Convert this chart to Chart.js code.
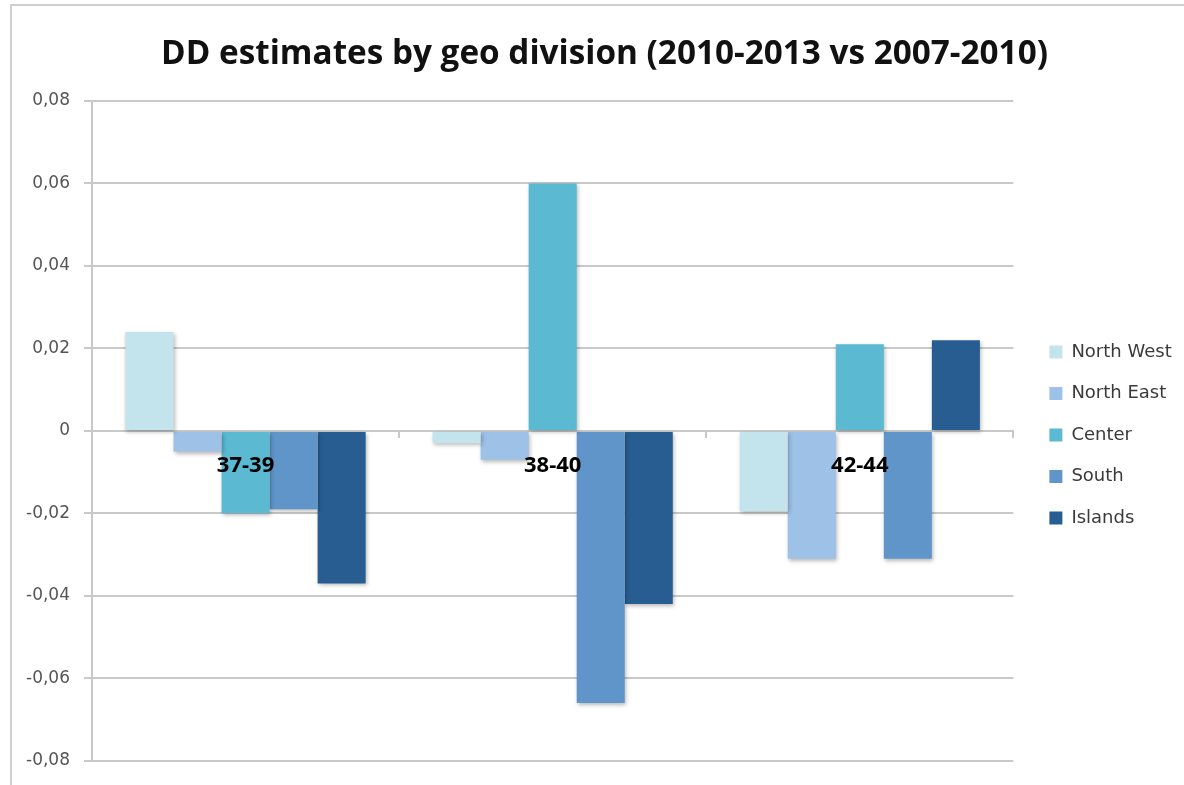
<!DOCTYPE html>
<html>
<head>
<meta charset="utf-8">
<script src="https://cdn.jsdelivr.net/npm/chart.js@4/dist/chart.umd.min.js"></script>
<style>
  html, body { margin: 0; padding: 0; background: #fff; overflow: hidden; }
  #wrap { position: relative; width: 1184px; height: 785px; overflow: hidden; }
  #frame { position: absolute; left: 10px; top: 4px; width: 1400px; height: 1000px;
           border-left: 2px solid #cfcfcf; border-top: 2px solid #cfcfcf; box-sizing: border-box; }
  #c { position: absolute; left: 0; top: 0; }
</style>
</head>
<body>
<div id="wrap">
  <div id="frame"></div>
  <canvas id="c" width="1209" height="785"></canvas>
</div>
<script>
// Age windows compared
const categories = ['37-39', '38-40', '42-44'];

// DD estimate per geographic division, one value per age window
const northWest = [0.024, -0.003, -0.0195];
const northEast = [-0.005, -0.007, -0.031];
const center    = [-0.020, 0.060, 0.021];
const south     = [-0.019, -0.066, -0.031];
const islands   = [-0.037, -0.042, 0.022];

const seriesNames  = ['North West', 'North East', 'Center', 'South', 'Islands'];
const seriesValues = [northWest, northEast, center, south, islands];
const seriesColors = ['#c3e4ec', '#9ec1e8', '#5bb9d2', '#6095c9', '#285d91'];

// Value axis range and step
const yMin = -0.08, yMax = 0.08, yStep = 0.02;

const titleText = 'DD estimates by geo division (2010-2013 vs 2007-2010)';

const gridColor = '#c9c9c9';

// Soft drop shadow under the bars
const barShadow = {
  id: 'barShadow',
  beforeDatasetsDraw(chart) {
    const ctx = chart.ctx;
    ctx.save();
    ctx.shadowColor = 'rgba(0,0,0,0.28)';
    ctx.shadowBlur = 4;
    ctx.shadowOffsetX = 1;
    ctx.shadowOffsetY = 2;
  },
  afterDatasetsDraw(chart) {
    chart.ctx.restore();
  }
};

// Invisible spacer axis: reserves horizontal room without drawing anything
function spacer(width, weight) {
  return {
    type: 'linear',
    position: 'right',
    display: true,
    weight: weight,
    afterFit(scale) { scale.width = width; },
    grid: { display: false },
    border: { display: false },
    ticks: { display: false }
  };
}

new Chart(document.getElementById('c'), {
  type: 'bar',
  data: {
    labels: categories,
    datasets: seriesNames.map((name, i) => ({
      label: name,
      data: seriesValues[i],
      backgroundColor: seriesColors[i],
      borderWidth: 0,
      categoryPercentage: 0.782,
      barPercentage: 1.0
    }))
  },
  options: {
    responsive: false,
    animation: false,
    layout: { padding: 0 },
    plugins: {
      title: {
        display: true,
        text: titleText,
        color: '#111',
        font: { family: 'Open Sans', size: 33.3, weight: 'bold' },
        padding: { top: 35, bottom: 26 }
      },
      legend: {
        display: true,
        position: 'right',
        align: 'center',
        fullSize: false,
        title: { display: true, text: '', padding: 4, font: { size: 0 } },
        labels: {
          color: '#3a3a3a',
          font: { family: 'DejaVu Sans', size: 18 },
          boxWidth: 13,
          boxHeight: 13,
          padding: 23.5
        }
      },
      tooltip: { enabled: false }
    },
    scales: {
      x: {
        position: { y: 0 },
        afterFit(scale) { scale.height = 24; },
        grid: {
          display: true,
          drawOnChartArea: false,
          drawTicks: true,
          tickLength: 6,
          color: gridColor,
          lineWidth: 2
        },
        border: { display: true, color: gridColor, width: 2 },
        ticks: {
          z: 1,
          padding: 16,
          color: '#000',
          font: { family: 'Open Sans', size: 22, weight: 'bold' },
          maxRotation: 0
        }
      },
      y: {
        min: yMin,
        max: yMax,
        afterFit(scale) { scale.width = 92; },
        grid: {
          color: gridColor,
          lineWidth: 2,
          drawTicks: true,
          tickLength: 8
        },
        border: { display: true, color: gridColor, width: 2 },
        ticks: {
          stepSize: yStep,
          padding: 14,
          color: '#555',
          font: { family: 'DejaVu Sans', size: 17 },
          callback(v) {
            if (Math.abs(v) < 1e-9) return '0';
            return v.toFixed(2).replace('.', ',');
          }
        }
      },
      gapInner: spacer(12.5, 0),
      gapOuter: spacer(32, 2000)
    }
  },
  plugins: [barShadow]
});
</script>
</body>
</html>
